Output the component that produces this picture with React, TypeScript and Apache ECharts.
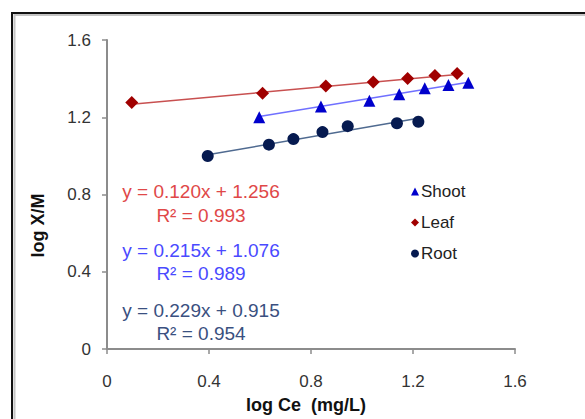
import React, { useEffect, useRef } from "react";
import * as echarts from "echarts";

const shootX = [0.597, 0.839, 1.029, 1.146, 1.246, 1.339, 1.417];
const shootY = [1.2, 1.256, 1.285, 1.319, 1.35, 1.367, 1.379];
const leafX = [0.097, 0.61, 0.858, 1.044, 1.179, 1.286, 1.373];
const leafY = [1.277, 1.324, 1.362, 1.382, 1.401, 1.416, 1.426];
const rootX = [0.395, 0.635, 0.731, 0.845, 0.944, 1.137, 1.221];
const rootY = [0.999, 1.058, 1.087, 1.123, 1.154, 1.169, 1.177];

const seriesNames = ["Shoot", "Leaf", "Root"];
const slopes = [0.215, 0.12, 0.229];
const intercepts = [1.076, 1.256, 0.915];
const r2 = [0.989, 0.993, 0.954];

const xTicks = [0, 0.4, 0.8, 1.2, 1.6];
const yTicks = [0, 0.4, 0.8, 1.2, 1.6];

const FONT = "'Liberation Sans', Arial, sans-serif";

export default function App() {
  const ref = useRef<HTMLDivElement>(null);
  useEffect(() => {
    if (!ref.current) return;
    const chart = echarts.init(ref.current, null, { renderer: "svg" });
    const xs = [shootX, leafX, rootX];
    const ys = [shootY, leafY, rootY];
    const markerColors = ["#0000cc", "#a00000", "#061a50"];
    const lineColors = ["#7070ff", "#c85050", "#4f6a90"];
    const textColors = ["#4a4aff", "#e04848", "#3a5080"];
    const symbols = ["triangle", "diamond", "circle"];
    const sizes = [12, 13, 12];

    const scatter = seriesNames.map((n, i) => ({
      name: n,
      type: "scatter",
      symbol: symbols[i],
      symbolSize: sizes[i],
      itemStyle: { color: markerColors[i], opacity: 1 },
      data: xs[i].map((x, k) => [x, ys[i][k]]),
      z: 3,
    }));
    const trends = seriesNames.map((n, i) => {
      const x0 = Math.min(...xs[i]);
      const x1 = Math.max(...xs[i]);
      return {
        name: n + " trend",
        type: "line",
        showSymbol: false,
        symbol: "none",
        lineStyle: { color: lineColors[i], width: 1.5 },
        data: [
          [x0, slopes[i] * x0 + intercepts[i]],
          [x1, slopes[i] * x1 + intercepts[i]],
        ],
        z: 2,
      };
    });

    // equation labels, order in picture: Leaf, Shoot, Root
    const eqOrder = [1, 0, 2];
    const eqY = [191.7, 250, 310];
    const eqTexts: any[] = [];
    eqOrder.forEach((idx, j) => {
      eqTexts.push({
        type: "text",
        x: 201,
        y: eqY[j],
        style: {
          text: `y = ${slopes[idx].toFixed(3)}x + ${intercepts[idx].toFixed(3)}`,
          fill: textColors[idx],
          font: `19px ${FONT}`,
          textAlign: "center",
          textVerticalAlign: "middle",
        },
      });
      eqTexts.push({
        type: "text",
        x: 201,
        y: eqY[j] + 23.5,
        style: {
          text: `R² = ${r2[idx].toFixed(3)}`,
          fill: textColors[idx],
          font: `19px ${FONT}`,
          textAlign: "center",
          textVerticalAlign: "middle",
        },
      });
    });

    chart.setOption({
      animation: false,
      backgroundColor: "#ffffff",
      textStyle: { fontFamily: FONT },
      grid: { left: 107, right: 70, top: 40, bottom: 66, containLabel: false },
      legend: {
        data: seriesNames,
        orient: "vertical",
        left: 406,
        top: 178,
        itemWidth: 8,
        itemHeight: 8,
        itemGap: 14,
        textStyle: { fontSize: 17, color: "#222", fontFamily: FONT, padding: [0, 0, 0, -3] },
      },
      xAxis: {
        type: "value",
        min: xTicks[0],
        max: xTicks[xTicks.length - 1],
        interval: 0.4,
        name: "log Ce  (mg/L)",
        nameLocation: "middle",
        nameGap: 47,
        nameTextStyle: { fontSize: 18, fontWeight: "bold", color: "#111", fontFamily: FONT, padding: [0, 10, 0, 0] },
        axisLine: { show: true, lineStyle: { color: "#8c8c8c", width: 2 } },
        axisTick: { show: true, length: 5, lineStyle: { color: "#8c8c8c", width: 1.5 } },
        axisLabel: {
          fontSize: 17,
          color: "#333",
          margin: 24,
          formatter: (v: number) => (v === 0 ? "0" : String(Number(v.toFixed(1)))),
        },
        splitLine: { show: false },
      },
      yAxis: {
        type: "value",
        min: yTicks[0],
        max: yTicks[yTicks.length - 1],
        interval: 0.4,
        name: "log X/M",
        nameLocation: "middle",
        nameGap: 60,
        nameRotate: 90,
        nameTextStyle: { fontSize: 18, fontWeight: "bold", color: "#111", fontFamily: FONT, padding: [0, 62, 0, 0] },
        axisLine: { show: true, lineStyle: { color: "#8c8c8c", width: 2 } },
        axisTick: { show: true, length: 5, lineStyle: { color: "#8c8c8c", width: 1.5 } },
        axisLabel: {
          fontSize: 17,
          color: "#333",
          margin: 16,
          formatter: (v: number) => (v === 0 ? "0" : Number(v.toFixed(1)).toFixed(1)),
        },
        splitLine: { show: false },
      },
      graphic: [
        { type: "line", shape: { x1: 11, y1: 13, x2: 585, y2: 13 }, style: { stroke: "#111", lineWidth: 2 } },
        { type: "line", shape: { x1: 14, y1: 15, x2: 585, y2: 15 }, style: { stroke: "#c4c4c4", lineWidth: 2 } },
        { type: "line", shape: { x1: 12, y1: 12, x2: 12, y2: 419 }, style: { stroke: "#111", lineWidth: 2 } },
        { type: "line", shape: { x1: 14.5, y1: 14, x2: 14.5, y2: 419 }, style: { stroke: "#c4c4c4", lineWidth: 2 } },
        ...eqTexts,
      ],
      series: [...trends, ...scatter],
    });
    return () => chart.dispose();
  }, []);
  return (
    <div
      ref={ref}
      style={{ position: "fixed", left: 0, top: 0, width: 585, height: 419 }}
    />
  );
}
